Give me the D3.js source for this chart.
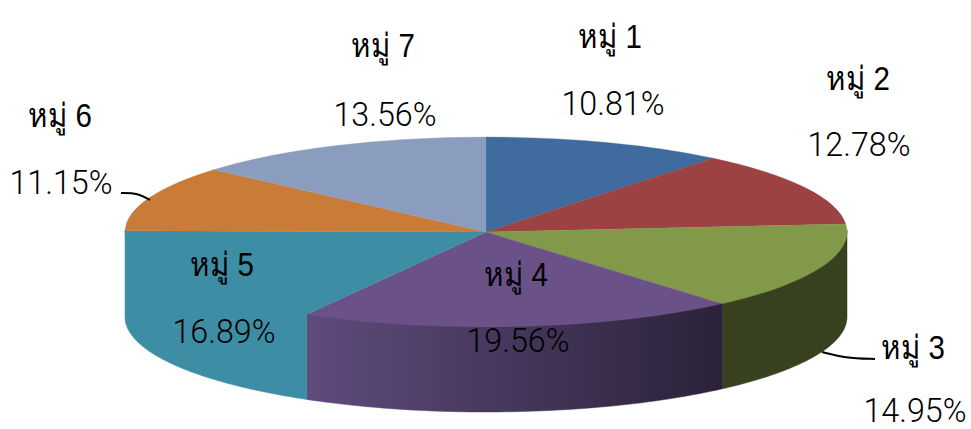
<!DOCTYPE html>
<html><head><meta charset="utf-8">
<script src="https://cdn.jsdelivr.net/npm/d3@7"></script>
<style>html,body{margin:0;padding:0;background:#fff;overflow:hidden}svg{display:block}
text{fill:#000}</style></head>
<body><svg id="c" width="971" height="429"></svg>
<script>
const categories = ["หมู่ 1","หมู่ 2","หมู่ 3","หมู่ 4","หมู่ 5","หมู่ 6","หมู่ 7"];
const values = [10.81,12.78,14.95,19.56,16.89,11.15,13.56];
const topColors = ["#3f6b9f","#9c4242","#82994a","#6a5288","#3d8da5","#c97b38","#8a9dbf"];
const sideColors = ["#2a4769","#682c2c","#38411f","url(#purple)","#3d8da5","#c97b38","#8a9dbf"];
const nameAnchors = [[610,48],[858,90],[913,359],[516,286],[222,276],[60,127],[383,57]];
const pctAnchors = [[613,115],[859,156],[915,422],[518,352],[224,343],[61,194],[385,126]];
const leaders = [[[822,352],[845,358],[875,359]],[[121,193],[138,193],[150,200]]];

const cx=486, cy=232, rx=361, ry=95, depth=85;
const svg=d3.select("#c");
const grad=svg.append("defs").append("linearGradient").attr("id","purple");
grad.append("stop").attr("offset","0").attr("stop-color","#5f4b7d");
grad.append("stop").attr("offset","1").attr("stop-color","#2b2239");

const arcs=d3.pie().sort(null).value(d=>d)(values);
const pt=(a,dy=0)=>[cx+rx*Math.sin(a),cy-ry*Math.cos(a)+dy];

// side walls: only the front half of the ellipse is visible; the upper edge tucks under the top face
const lo=Math.PI/2, hi=3*Math.PI/2;
arcs.forEach((d,i)=>{
  const a0=Math.max(d.startAngle,lo), a1=Math.min(d.endAngle,hi);
  if(a1<=a0) return;
  const n=60, as=d3.range(n+1).map(k=>a0+(a1-a0)*k/n);
  const poly=[...as.map(a=>pt(a,-2)),...as.slice().reverse().map(a=>pt(a,depth))];
  svg.append("path").attr("d",d3.line()(poly)+"Z").attr("fill",sideColors[i]).attr("stroke",sideColors[i]).attr("stroke-width",.5);
});
// top slices
const arcGen=d3.arc().innerRadius(0).outerRadius(rx);
const topFace=svg.append("g").attr("transform",`translate(${cx},${cy}) scale(1,${ry/rx})`);
topFace.selectAll("path").data(arcs).join("path").attr("d",arcGen).attr("fill",(d,i)=>topColors[i])
  .attr("stroke",(d,i)=>topColors[i]).attr("stroke-width",.5);

// leaders
svg.selectAll("path.leader").data(leaders).join("path").attr("class","leader")
  .attr("d",d3.line().curve(d3.curveBasis)).attr("fill","none").attr("stroke","#000").attr("stroke-width",2);

// labels
const label=(s,p,w,fam,wt)=>svg.append("text").attr("x",p[0]).attr("y",p[1]).attr("text-anchor","middle")
  .attr("font-family",fam).attr("font-size",33).attr("font-weight",wt)
  .attr("textLength",w).attr("lengthAdjust","spacingAndGlyphs").text(s);
categories.forEach((c,i)=>{
  label(c,nameAnchors[i],64,"'Liberation Sans',sans-serif",400);
  label(values[i].toFixed(2)+"%",pctAnchors[i],103,"Roboto,sans-serif",300);
});
</script></body></html>
